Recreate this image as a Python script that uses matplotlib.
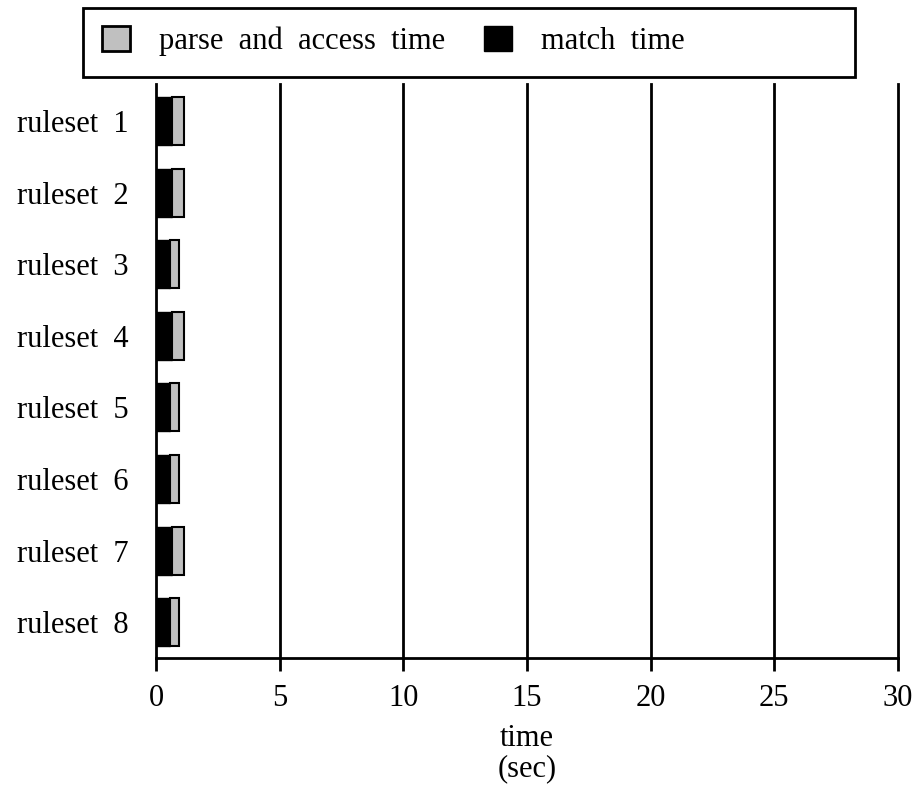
import matplotlib.pyplot as plt
from matplotlib.patches import Patch, Rectangle

rulesets = ['ruleset  1', 'ruleset  2', 'ruleset  3', 'ruleset  4',
            'ruleset  5', 'ruleset  6', 'ruleset  7', 'ruleset  8']
match_time = [0.63, 0.63, 0.55, 0.63, 0.55, 0.55, 0.63, 0.55]
parse_time = [0.51, 0.51, 0.39, 0.51, 0.39, 0.39, 0.51, 0.39]
xticks = [0, 5, 10, 15, 20, 25, 30]

plt.rcParams['font.family'] = 'Liberation Serif'
plt.rcParams['font.size'] = 22

fig = plt.figure(figsize=(9.18, 7.9), dpi=100)
ax = fig.add_axes([0.170, 0.167, 0.808, 0.727])

y = list(range(len(rulesets)))
for x in xticks[1:]:
    ax.axvline(x, color='black', lw=2, zorder=1, clip_on=False)
ax.barh(y, match_time, height=0.67, color='black', edgecolor='black', lw=1, zorder=3)
ax.barh(y, parse_time, left=match_time, height=0.67, color='#c0c0c0',
        edgecolor='black', lw=1.5, zorder=3)

ax.set_xlim(0, 30)
ax.set_ylim(7.5, -0.52)
ax.set_xticks(xticks)
ax.set_yticks(y)
ax.set_yticklabels(rulesets)
ax.tick_params(axis='x', direction='out', length=9, width=2, pad=9.5)
ax.tick_params(axis='y', length=0, pad=20)
for s in ['top', 'right']:
    ax.spines[s].set_visible(False)
for s in ['left', 'bottom']:
    ax.spines[s].set_linewidth(2)
ax.set_xlabel('time\n(sec)', linespacing=1.05, labelpad=8)

# legend frame drawn separately, legend itself sits inside it
fig.patches.append(Rectangle((83 / 918, 1 - 77 / 790), 772 / 918, 69 / 790,
                             transform=fig.transFigure, facecolor='white',
                             edgecolor='black', lw=2))
handles = [Patch(facecolor='#c0c0c0', edgecolor='black', lw=2),
           Patch(facecolor='black', edgecolor='black')]
leg = fig.legend(handles, ['parse  and  access  time', 'match  time'], ncol=2,
                 loc='center left', bbox_to_anchor=(102 / 918, 1 - 41 / 790),
                 frameon=False, handlelength=0.9, handleheight=0.9,
                 handletextpad=0.95, columnspacing=1.3, borderpad=0,
                 borderaxespad=0)

fig.savefig('out.png', dpi=100)
